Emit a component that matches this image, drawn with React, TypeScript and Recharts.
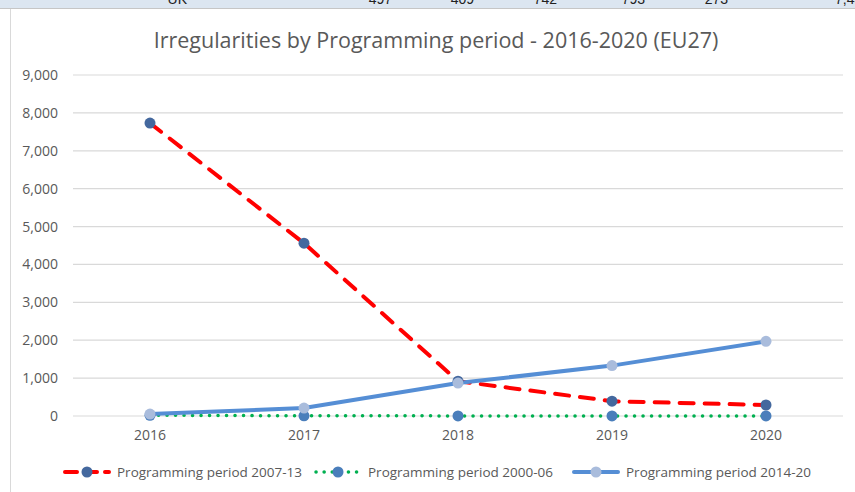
import { LineChart, Line, XAxis, YAxis, CartesianGrid } from "recharts";

const years = ["2016", "2017", "2018", "2019", "2020"];
const pp2007_13 = [7730, 4560, 920, 390, 290];
const pp2000_06 = [20, 5, 3, 2, 1];
const pp2014_20 = [50, 210, 870, 1330, 1970];
const yTicks = [0, 1000, 2000, 3000, 4000, 5000, 6000, 7000, 8000, 9000];

// cut-off row of the table above the chart
const tableRow = [
  { text: "UK", right: 187 },
  { text: "497", right: 392 },
  { text: "409", right: 474 },
  { text: "742", right: 557 },
  { text: "793", right: 645 },
  { text: "273", right: 728 },
  { text: "7,434", right: 870 },
];

const FONT = "'Open Sans', sans-serif";
const TEXT = "#595959";

const data = years.map((year, i) => ({
  year,
  a: pp2007_13[i],
  b: pp2000_06[i],
  c: pp2014_20[i],
}));

const LEGEND = [
  { label: "Programming period 2007-13", stroke: "#ff0000", dash: "12 8", width: 4, dot: "#44689e", left: 63 },
  { label: "Programming period 2000-06", stroke: "#00b050", dash: "0.1 8", width: 3.5, dot: "#4a7ebb", left: 314 },
  { label: "Programming period 2014-20", stroke: "#558ed5", dash: undefined, width: 4, dot: "#a9bcdc", left: 572 },
];

function Dot(fill: string) {
  return (props: any) => {
    const { cx, cy, index } = props;
    if (cx == null || cy == null) return <g key={index} />;
    return <circle key={index} cx={cx} cy={cy} r={5.5} fill={fill} stroke="none" />;
  };
}

export default function App() {
  return (
    <div
      style={{
        position: "absolute",
        left: 0,
        top: 0,
        width: 855,
        height: 492,
        background: "#fff",
        overflow: "hidden",
        fontFamily: FONT,
      }}
    >
      {/* table strip */}
      <div
        style={{
          position: "absolute",
          left: 0,
          top: 0,
          width: 855,
          height: 8,
          background: "#dce6f1",
          borderBottom: "1px solid #c6c6c6",
          overflow: "hidden",
        }}
      >
        {tableRow.map((t) => (
          <span
            key={t.text}
            style={{
              position: "absolute",
              top: -9,
              left: t.right - 40,
              width: 40,
              textAlign: "right",
              fontSize: 14,
              fontFamily: "'Liberation Sans', Arial, sans-serif",
              color: "#222",
            }}
          >
            {t.text}
          </span>
        ))}
      </div>
      <div
        style={{
          position: "absolute",
          left: 10,
          top: 9,
          width: 1,
          height: 483,
          background: "#d9d9d9",
        }}
      />
      <div
        style={{
          position: "absolute",
          left: 0,
          top: 25,
          width: 872,
          textAlign: "center",
          fontSize: 21.5,
          color: TEXT,
        }}
      >
        Irregularities by Programming period - 2016-2020 (EU27)
      </div>

      <div style={{ position: "absolute", left: 0, top: 0 }}>
        <LineChart
          width={855}
          height={492}
          data={data}
          margin={{ top: 75, right: 12, left: 10, bottom: 46 }}
        >
          <CartesianGrid vertical={false} stroke="#d9d9d9" strokeWidth={1.2} />
          <XAxis
            dataKey="year"
            axisLine={false}
            tickLine={false}
            height={30}
            padding={{ left: 77, right: 77 }}
            tick={{ fill: TEXT, fontSize: 14, fontFamily: FONT }}
            tickMargin={8}
          />
          <YAxis
            domain={[0, 9000]}
            ticks={yTicks}
            width={63}
            axisLine={false}
            tickLine={false}
            tickMargin={9}
            tick={{ fill: TEXT, fontSize: 14, fontFamily: FONT }}
            tickFormatter={(v: number) => v.toLocaleString("en-US")}
          />
          <Line
            dataKey="a"
            stroke="#ff0000"
            strokeWidth={4}
            strokeDasharray="14 11"
            strokeLinecap="round"
            dot={Dot("#44689e")}
            activeDot={false}
            isAnimationActive={false}
          />
          <Line
            dataKey="b"
            stroke="#00b050"
            strokeWidth={3.5}
            strokeDasharray="0.1 8.4"
            strokeLinecap="round"
            dot={Dot("#4a7ebb")}
            activeDot={false}
            isAnimationActive={false}
          />
          <Line
            dataKey="c"
            stroke="#558ed5"
            strokeWidth={4}
            dot={Dot("#a9bcdc")}
            activeDot={false}
            isAnimationActive={false}
          />
        </LineChart>
      </div>

      {/* legend */}
      {LEGEND.map((item) => (
        <div
          key={item.label}
          style={{
            position: "absolute",
            left: item.left,
            top: 462,
            height: 20,
            display: "flex",
            alignItems: "center",
            whiteSpace: "nowrap",
          }}
        >
          <svg width={48} height={16}>
            <line
              x1={2}
              y1={8}
              x2={46}
              y2={8}
              stroke={item.stroke}
              strokeWidth={item.width}
              strokeDasharray={item.dash}
              strokeLinecap="round"
            />
            <circle cx={24} cy={8} r={5.5} fill={item.dot} />
          </svg>
          <span style={{ marginLeft: 6, fontSize: 13.5, color: TEXT }}>{item.label}</span>
        </div>
      ))}
    </div>
  );
}
